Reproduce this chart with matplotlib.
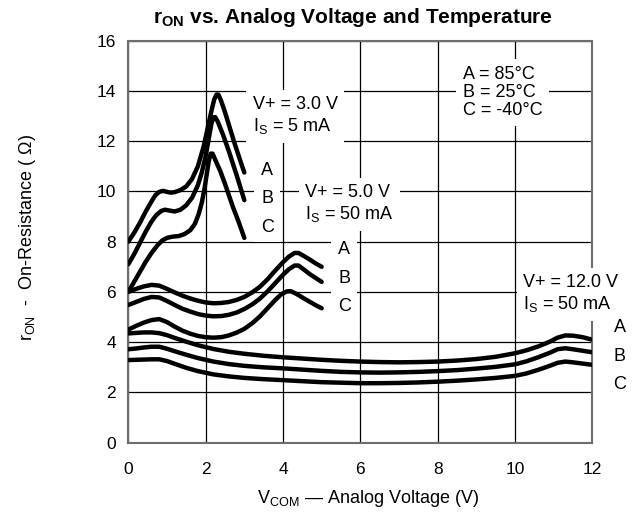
import matplotlib
matplotlib.use("Agg")
import matplotlib.pyplot as plt

plt.rcParams["font.family"] = ["Liberation Sans", "DejaVu Sans"]
plt.rcParams["mathtext.fontset"] = "custom"
plt.rcParams["mathtext.rm"] = "Liberation Sans"
plt.rcParams["mathtext.it"] = "Liberation Sans:italic"
plt.rcParams["mathtext.bf"] = "Liberation Sans:bold"

# V+ = 3.0 V, Is = 5 mA
x3_a = [0, 0.15, 0.3, 0.45, 0.6, 0.7, 0.8, 0.9, 1.0, 1.1, 1.2, 1.35, 1.5, 1.65, 1.8,
        1.95, 2.05, 2.15, 2.22, 2.28, 2.33, 2.4, 2.5, 2.6, 2.75, 2.9, 3.0]
y3_a = [8.0, 8.35, 8.75, 9.2, 9.6, 9.85, 9.98, 10.02, 9.98, 9.95, 9.97, 10.05, 10.2, 10.5, 11.0,
        11.8, 12.5, 13.2, 13.65, 13.85, 13.85, 13.6, 13.15, 12.65, 11.9, 11.2, 10.75]
x3_b = [0, 0.15, 0.3, 0.45, 0.6, 0.72, 0.85, 0.95, 1.05, 1.2, 1.35, 1.5, 1.65, 1.8, 1.9,
        2.0, 2.08, 2.15, 2.2, 2.25, 2.32, 2.45, 2.6, 2.8, 3.0]
y3_b = [7.1, 7.5, 7.95, 8.4, 8.8, 9.05, 9.22, 9.27, 9.24, 9.2, 9.27, 9.45, 9.75, 10.25, 10.75,
        11.4, 12.1, 12.7, 12.95, 12.95, 12.75, 12.25, 11.6, 10.65, 9.65]
x3_c = [0, 0.15, 0.3, 0.45, 0.6, 0.75, 0.88, 1.0, 1.15, 1.3, 1.45, 1.6, 1.72, 1.82, 1.9,
        1.97, 2.03, 2.08, 2.13, 2.18, 2.25, 2.38, 2.5, 2.7, 2.85, 3.0]
y3_c = [6.0, 6.4, 6.8, 7.2, 7.55, 7.85, 8.05, 8.15, 8.2, 8.22, 8.3, 8.45, 8.7, 9.1, 9.55,
        10.1, 10.7, 11.2, 11.5, 11.5, 11.25, 10.8, 10.3, 9.4, 8.8, 8.15]

# V+ = 5.0 V, Is = 50 mA
x5_a = [0, 0.2, 0.4, 0.6, 0.8, 1.0, 1.2, 1.4, 1.6, 1.8, 2.0, 2.2, 2.4, 2.6, 2.8, 3.0,
        3.2, 3.4, 3.6, 3.8, 4.0, 4.15, 4.3, 4.4, 4.55, 4.7, 4.85, 5.0]
y5_a = [6.0, 6.12, 6.22, 6.28, 6.25, 6.12, 5.98, 5.85, 5.74, 5.65, 5.58, 5.55, 5.56, 5.6, 5.68, 5.8,
        5.98, 6.2, 6.5, 6.85, 7.18, 7.4, 7.55, 7.55, 7.42, 7.28, 7.13, 7.0]
x5_b = [0, 0.2, 0.4, 0.6, 0.8, 1.0, 1.2, 1.4, 1.6, 1.8, 2.0, 2.2, 2.4, 2.6, 2.8, 3.0,
        3.2, 3.4, 3.6, 3.8, 4.0, 4.15, 4.3, 4.4, 4.55, 4.7, 4.85, 5.0]
y5_b = [5.48, 5.6, 5.72, 5.8, 5.78, 5.64, 5.48, 5.33, 5.22, 5.12, 5.06, 5.03, 5.04, 5.09, 5.18, 5.32,
        5.5, 5.73, 6.02, 6.35, 6.68, 6.9, 7.05, 7.05, 6.88, 6.7, 6.55, 6.4]
x5_c = [0, 0.2, 0.4, 0.6, 0.8, 1.0, 1.2, 1.4, 1.6, 1.8, 2.0, 2.2, 2.4, 2.6, 2.8, 3.0,
        3.2, 3.4, 3.6, 3.8, 3.95, 4.1, 4.2, 4.35, 4.5, 4.7, 4.85, 5.0]
y5_c = [4.5, 4.65, 4.78, 4.88, 4.92, 4.8, 4.62, 4.46, 4.34, 4.25, 4.2, 4.18, 4.2, 4.27, 4.38, 4.53,
        4.75, 5.02, 5.35, 5.68, 5.9, 6.02, 6.03, 5.92, 5.78, 5.6, 5.47, 5.35]

# V+ = 12.0 V, Is = 50 mA
x12 = [0, 0.2, 0.4, 0.6, 0.8, 1.0, 1.2, 1.5, 1.8, 2.2, 2.6, 3, 3.5, 4, 4.5, 5, 5.5, 6,
       6.5, 7, 7.5, 8, 8.5, 9, 9.5, 10, 10.3, 10.6, 10.9, 11.1, 11.3, 11.5, 11.75, 12]
y12_a = [4.35, 4.37, 4.39, 4.39, 4.36, 4.28, 4.17, 4.02, 3.88, 3.73, 3.62, 3.54, 3.46, 3.4, 3.35, 3.3, 3.26, 3.23,
         3.21, 3.2, 3.21, 3.23, 3.27, 3.33, 3.42, 3.56, 3.68, 3.83, 4.02, 4.18, 4.27, 4.26, 4.2, 4.1]
y12_b = [3.72, 3.75, 3.79, 3.82, 3.82, 3.74, 3.64, 3.5, 3.37, 3.23, 3.13, 3.06, 3.0, 2.96, 2.91, 2.86, 2.82, 2.8,
         2.79, 2.8, 2.82, 2.85, 2.89, 2.95, 3.02, 3.12, 3.24, 3.4, 3.58, 3.72, 3.76, 3.72, 3.66, 3.6]
y12_c = [3.29, 3.3, 3.31, 3.32, 3.32, 3.25, 3.14, 2.98, 2.85, 2.72, 2.64, 2.58, 2.53, 2.49, 2.45, 2.41, 2.39, 2.37,
         2.37, 2.38, 2.4, 2.43, 2.47, 2.52, 2.58, 2.66, 2.76, 2.9, 3.06, 3.18, 3.23, 3.2, 3.15, 3.1]

xticks = [0, 2, 4, 6, 8, 10, 12]
yticks = [0, 2, 4, 6, 8, 10, 12, 14, 16]

fig = plt.figure(figsize=(6.34, 5.16), dpi=100)
ax = fig.add_axes([0.2024, 0.1419, 0.7318, 0.7796])

curves = [
    (x3_a, y3_a), (x3_b, y3_b), (x3_c, y3_c),
    (x5_a, y5_a), (x5_b, y5_b), (x5_c, y5_c),
    (x12, y12_a), (x12, y12_b), (x12, y12_c),
]
for xs, ys in curves:
    ax.plot(xs, ys, color="black", lw=3.2, solid_capstyle="round",
            solid_joinstyle="round", zorder=2.6)

ax.set_xlim(0, 12)
ax.set_ylim(0, 16)
ax.set_xticks(xticks)
ax.set_yticks(yticks)
ax.tick_params(length=0, labelsize=12.5)
ax.tick_params(axis="x", pad=14)
ax.tick_params(axis="y", pad=9)
ax.grid(True, color="black", lw=0.9, zorder=1)
ax.set_axisbelow(True)
for s in ax.spines.values():
    s.set_color("#6e6e6e")
    s.set_linewidth(1.5)

box = dict(boxstyle="square,pad=0.35", fc="white", ec="none")
fs = 13

ax.text(3.22, 13.0, "V+ = 3.0 V\nI$_\\mathrm{S}$ = 5 mA", fontsize=fs, va="center",
        ha="left", linespacing=1.25, bbox=box, zorder=3)
ax.text(3.59, 9.7, "A\n\nB\n\nC", fontsize=fs, va="center", ha="center",
        linespacing=0.78, bbox=box, zorder=3)

ax.text(4.57, 9.5, "V+ = 5.0 V\nI$_\\mathrm{S}$ = 50 mA", fontsize=fs, va="center",
        ha="left", linespacing=1.25, bbox=box, zorder=3)
ax.text(5.58, 6.55, "A\n\nB\n\nC", fontsize=fs, va="center", ha="center",
        linespacing=0.78, bbox=box, zorder=3)

ax.text(10.21, 5.92, "V+ = 12.0 V\nI$_\\mathrm{S}$ = 50 mA", fontsize=fs, va="center",
        ha="left", linespacing=1.25, bbox=box, zorder=3)
ax.text(12.71, 3.45, "A\n\nB\n\nC", fontsize=fs, va="center", ha="center",
        linespacing=0.78, zorder=3)

ax.text(8.65, 13.93, "A = 85°C\nB = 25°C\nC = -40°C", fontsize=fs, va="center",
        ha="left", linespacing=1.1, bbox=box, zorder=3)

fig.text(0.557, 0.966, "$\\mathbf{r}_\\mathbf{ON}$ vs. Analog Voltage and Temperature",
         fontsize=15, fontweight="bold", ha="center", va="center")
fig.text(0.58, 0.033, "V$_\\mathrm{COM}$ — Analog Voltage (V)", fontsize=13,
         ha="center", va="center")
fig.text(0.044, 0.54, "r$_\\mathrm{ON}$  -  On-Resistance ( Ω)", fontsize=13,
         ha="center", va="center", rotation=90)

fig.savefig("out.png", dpi=100)
